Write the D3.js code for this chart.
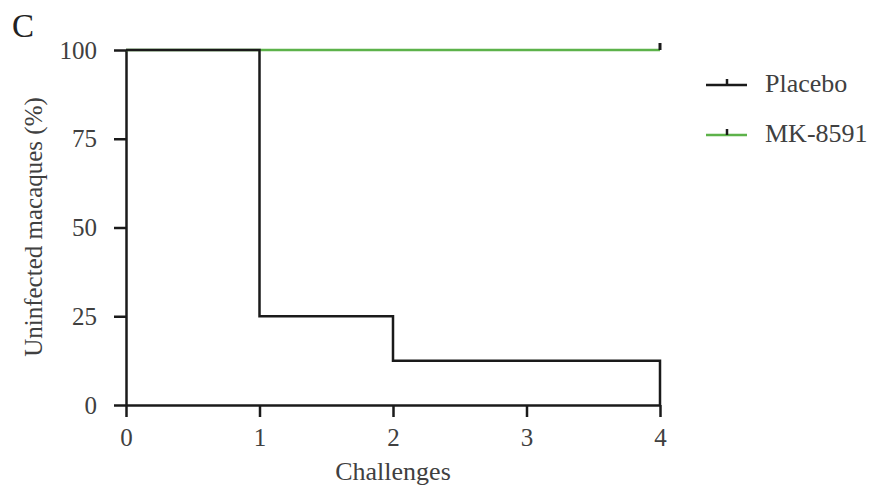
<!DOCTYPE html>
<html><head><meta charset="utf-8">
<script src="https://cdn.jsdelivr.net/npm/d3@7"></script>
<style>body{margin:0;background:#fff;}</style>
</head><body>
<svg id="c" width="869" height="492"></svg>
<script>
const xTicks = [0, 1, 2, 3, 4];
const yTicks = [0, 25, 50, 75, 100];
const seriesNames = ["Placebo", "MK-8591"];
const seriesColors = ["#1a1a1a", "#5db24a"];
const placeboTimes = [0, 1, 2, 4];
const placeboValues = [100, 25, 12.5, 0];
const mkTimes = [0, 4];
const mkValues = [100, 100];
const mkCensorTimes = [4];
const mkCensorValues = [100];

const FONT = "'Liberation Serif', 'Times New Roman', serif";
const svg = d3.select("#c").attr("font-family", FONT);
const x = d3.scaleLinear().domain([0, 4]).range([126, 660]);
const y = d3.scaleLinear().domain([0, 100]).range([405, 50]);
const txt = "#404040";

// axes
const gx = svg.append("g").attr("transform", "translate(0,405)")
  .call(d3.axisBottom(x).tickValues(xTicks).tickSize(12).tickSizeOuter(0).tickPadding(11).tickFormat(d3.format("d")));
const gy = svg.append("g").attr("transform", "translate(126,0)")
  .call(d3.axisLeft(y).tickValues(yTicks).tickSize(12).tickSizeOuter(0).tickPadding(17).tickFormat(d3.format("d")));
[gx, gy].forEach(g => {
  g.attr("font-family", FONT).attr("font-size", 25);
  g.selectAll("path.domain").attr("stroke", "#1a1a1a").attr("stroke-width", 2.5);
  g.selectAll(".tick line").attr("stroke", "#1a1a1a").attr("stroke-width", 2.5);
  g.selectAll(".tick text").attr("fill", txt).attr("font-family", FONT).attr("font-size", 25);
});

// series
const line = d3.line().x(d => x(d[0])).y(d => y(d[1])).curve(d3.curveStepAfter);
svg.append("path").datum(d3.zip(mkTimes, mkValues)).attr("d", line)
  .attr("fill", "none").attr("stroke", seriesColors[1]).attr("stroke-width", 2.5);
svg.append("path").datum(d3.zip(placeboTimes, placeboValues)).attr("d", line)
  .attr("fill", "none").attr("stroke", seriesColors[0]).attr("stroke-width", 2.5);
// censor marks
svg.selectAll("line.cens").data(d3.zip(mkCensorTimes, mkCensorValues)).enter().append("line")
  .attr("x1", d => x(d[0])).attr("x2", d => x(d[0]))
  .attr("y1", d => y(d[1]) - 7).attr("y2", d => y(d[1]))
  .attr("stroke", "#1a1a1a").attr("stroke-width", 3);

// labels
svg.append("text").attr("x", 12).attr("y", 37).attr("font-size", 33).attr("font-family", FONT).attr("fill", "#222").text("C");
svg.append("text").attr("x", x(2)).attr("y", 480).attr("text-anchor", "middle").attr("font-family", FONT)
  .attr("font-size", 26).attr("fill", txt).text("Challenges");
svg.append("text").attr("transform", "translate(42,227) rotate(-90)").attr("text-anchor", "middle").attr("font-family", FONT)
  .attr("font-size", 25).attr("fill", txt).text("Uninfected macaques (%)");

// legend
const lg = svg.append("g");
seriesNames.forEach((n, i) => {
  const ly = 85 + i * 50;
  lg.append("line").attr("x1", 706).attr("x2", 747).attr("y1", ly).attr("y2", ly)
    .attr("stroke", seriesColors[i]).attr("stroke-width", 2.5);
  lg.append("line").attr("x1", 727).attr("x2", 727).attr("y1", ly - 6).attr("y2", ly)
    .attr("stroke", "#1a1a1a").attr("stroke-width", 2.5);
  lg.append("text").attr("x", 765).attr("y", ly + 7).attr("font-size", 26).attr("font-family", FONT).attr("fill", txt).text(n);
});
</script>
</body></html>
